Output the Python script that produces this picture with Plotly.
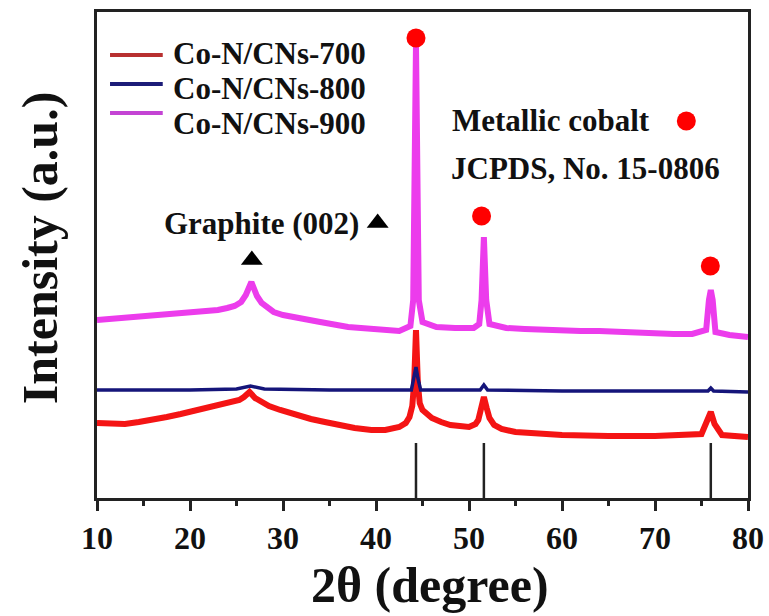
import plotly.graph_objects as go

# XRD patterns (2θ in degrees, intensity in arbitrary units, stacked with offsets)
tt_700 = [10, 11.5, 13, 14.5, 16, 17.5, 19, 20.5, 22, 23.3, 24.6, 25.3, 25.8, 26.4, 27.0,
          27.7, 28.5, 29.7, 31, 32, 33, 34.5, 36, 37.7, 39.5, 41, 42.5, 43.2, 43.6, 43.9,
          44.1, 44.3, 44.5, 44.7, 45.0, 45.5, 46, 47, 48, 50, 50.7, 51.0, 51.35, 51.6,
          51.9, 52.2, 52.7, 53.5, 55, 60, 65, 70, 75, 75.6, 76.0, 76.4, 77.2, 80]
int_700 = [75, 74, 74, 76, 78, 81, 84, 87, 90, 93, 96, 98, 101, 106, 100,
           96, 92, 88, 84, 81, 79, 76, 73, 70, 68, 68, 71, 75, 81, 92,
           115, 168, 115, 95, 88, 84, 80, 76, 73, 71, 74, 78, 93, 101,
           90, 80, 73, 69, 66, 63, 62, 62, 64, 76, 86, 74, 63, 61]

tt_800 = [10, 20, 25, 26.5, 28, 35, 43.8, 44.1, 44.3, 44.5, 44.8, 51.2, 51.6, 52.0,
          60, 70, 75.7, 76.0, 76.3, 80]
int_800 = [108, 108, 109, 112, 109, 108, 108, 120, 131, 120, 108, 108, 113, 108,
           107, 107, 107, 110, 107, 106]

tt_900 = [10, 11.5, 13, 14.5, 16, 17.5, 19, 20.5, 22, 23, 24, 24.8, 25.5, 26.0, 26.6, 27.2,
          27.7, 28.3, 29, 30, 31, 32.5, 34, 37, 40, 42.5, 43.7, 44.0, 44.3, 44.6, 45.0,
          46.5, 48.5, 50.5, 51.1, 51.35, 51.6, 51.85, 52.2, 54, 56, 58, 60, 62, 64, 66,
          68, 70, 72, 74, 75.5, 75.8, 76.0, 76.2, 76.5, 78, 80]
int_900 = [178, 179, 180, 181, 182, 183, 185, 186, 187, 188, 190, 192, 196, 203, 216, 202,
           195, 190, 186, 183, 181, 178, 176, 171, 168, 167, 172, 198, 454, 198, 176,
           171, 170, 170, 174, 198, 261, 198, 174, 170, 169, 168, 168, 167, 167, 166,
           166, 165, 164, 164, 168, 198, 208, 198, 166, 163, 161]

series_names = ["Co-N/CNs-700", "Co-N/CNs-800", "Co-N/CNs-900"]

# Metallic cobalt reference (JCPDS No. 15-0806) stick positions and height
jcpds_tt = [44.3, 51.6, 76.0]
jcpds_height = 55

# Peak markers: cobalt (red dots) and graphite (002) (triangle), plus key symbols
co_mark_tt = [44.3, 51.35, 75.95, 73.37]
co_mark_int = [460, 282, 232, 377]
gr_mark_tt = [26.65, 40.18]
gr_mark_int = [238, 275]

FONT = "Liberation Serif"
TXT = "#111111"

line_colors = ["#F41414", "#15157A", "#EC3CEC"]
legend_colors = ["#B83030", "#1C1C78", "#C444D4"]
line_widths = [6, 3.5, 6]

fig = go.Figure()

# stick pattern of the reference card
sx, sy = [], []
for t in jcpds_tt:
    sx += [t, t, None]
    sy += [0, jcpds_height, None]
fig.add_trace(go.Scatter(x=sx, y=sy, mode="lines", line=dict(color="#222222", width=2.5),
                         showlegend=False, hoverinfo="skip"))

for tt, inten, col, w, name in zip([tt_700, tt_800, tt_900], [int_700, int_800, int_900],
                                   line_colors, line_widths, series_names):
    fig.add_trace(go.Scatter(x=tt, y=inten, mode="lines", name=name,
                             line=dict(color=col, width=w), showlegend=False))

fig.add_trace(go.Scatter(x=co_mark_tt, y=co_mark_int, mode="markers",
                         marker=dict(color="#FF0000", size=19, line=dict(width=0)),
                         showlegend=False, hoverinfo="skip"))
fig.add_trace(go.Scatter(x=gr_mark_tt, y=gr_mark_int, mode="markers",
                         marker=dict(color="#000000", size=19, symbol="triangle-up",
                                     line=dict(width=0)),
                         showlegend=False, hoverinfo="skip"))

# hand-built legend
shapes = []
annotations = []
leg_line_y = [0.9115, 0.852, 0.792]
leg_text_y = [0.9156, 0.8436, 0.7716]
for name, col, ly, ty in zip(series_names, legend_colors, leg_line_y, leg_text_y):
    shapes.append(dict(type="line", xref="paper", yref="paper", x0=0.02, x1=0.101,
                       y0=ly, y1=ly, line=dict(color=col, width=4)))
    annotations.append(dict(xref="paper", yref="paper", x=0.113, y=ty, text=name,
                            showarrow=False, xanchor="left", yanchor="middle",
                            font=dict(family=FONT, size=31, color=TXT, weight="bold")))

annotations += [
    dict(x=27.7, y=275, xref="x", yref="y", text="Graphite (002)", showarrow=False,
         xanchor="center", yanchor="middle",
         font=dict(family=FONT, size=31, color=TXT, weight="bold")),
    dict(x=48.0, y=378, xref="x", yref="y", text="Metallic cobalt", showarrow=False,
         xanchor="left", yanchor="middle",
         font=dict(family=FONT, size=31, color=TXT, weight="bold")),
    dict(x=47.8, y=330, xref="x", yref="y", text="JCPDS, No. 15-0806", showarrow=False,
         xanchor="left", yanchor="middle",
         font=dict(family=FONT, size=31, color=TXT, weight="bold")),
    dict(x=0.5115, y=-0.179, xref="paper", yref="paper", text="2θ (degree)",
         showarrow=False, xanchor="center", yanchor="middle",
         font=dict(family=FONT, size=50, color=TXT, weight="bold")),
    dict(x=-0.0876, y=0.516, xref="paper", yref="paper", text="Intensity (a.u.)",
         showarrow=False, xanchor="center", yanchor="middle", textangle=-90,
         font=dict(family=FONT, size=50, color=TXT, weight="bold")),
]

fig.update_layout(
    width=769, height=616,
    margin=dict(l=97, r=21, t=12, b=118, autoexpand=False),
    paper_bgcolor="white", plot_bgcolor="white",
    shapes=shapes, annotations=annotations,
    xaxis=dict(range=[10, 80], tickvals=[10, 20, 30, 40, 50, 60, 70, 80],
               ticks="outside", ticklen=10, tickwidth=2.5, tickcolor="#222222",
               minor=dict(tickvals=[15, 25, 35, 45, 55, 65, 75], ticks="outside",
                          ticklen=5, tickwidth=2.5, tickcolor="#222222"),
               showline=True, mirror=True, linewidth=3, linecolor="#222222",
               showgrid=False, zeroline=False, automargin=False,
               tickfont=dict(family=FONT, size=32, color=TXT, weight="bold")),
    yaxis=dict(range=[0, 486], showticklabels=False, ticks="",
               showline=True, mirror=True, linewidth=3, linecolor="#222222",
               showgrid=False, zeroline=False, automargin=False),
)

fig.write_html("out.html")
